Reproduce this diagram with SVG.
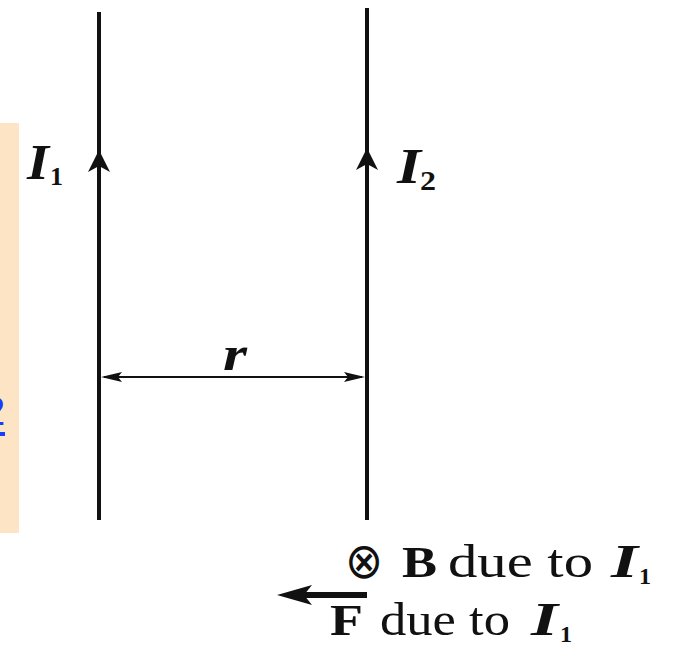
<svg xmlns="http://www.w3.org/2000/svg" width="676" height="648" viewBox="0 0 676 648">
<defs>
<style>
.wire{stroke:#111;stroke-width:4;fill:none}
.dim{stroke:#111;stroke-width:2;fill:none}
.lbl{font-family:"Liberation Serif","Times New Roman",serif;fill:#111}
.bi{font-weight:bold;font-style:italic}
.b{font-weight:bold}
</style>
</defs>
<rect x="0" y="123" width="19" height="410" fill="#FDE4C4"/>
<text x="-17" y="425" font-family="Liberation Sans, Arial, sans-serif" font-size="40" fill="#1a3cff">2</text>
<rect x="0" y="432" width="5" height="4" fill="#1a3cff"/>
<g id="wire1">
<line class="wire" x1="99" y1="12" x2="99" y2="520"/>
<path d="M99,150 L110,172 L99,166 L88,172 Z" fill="#111"/>
<text class="lbl bi" x="27" y="179" font-size="50" textLength="22" lengthAdjust="spacingAndGlyphs">I</text>
<text class="lbl b" x="50" y="185" font-size="26" textLength="13" lengthAdjust="spacingAndGlyphs">1</text>
</g>
<g id="wire2">
<line class="wire" x1="367" y1="8" x2="367" y2="520"/>
<path d="M367,148 L378,170 L367,164 L356,170 Z" fill="#111"/>
<text class="lbl bi" x="397" y="183" font-size="50" textLength="24" lengthAdjust="spacingAndGlyphs">I</text>
<text class="lbl b" x="420" y="190" font-size="28" textLength="16" lengthAdjust="spacingAndGlyphs">2</text>
</g>
<g id="connectors">
<line class="dim" x1="104" y1="377" x2="362" y2="377"/>
<path d="M101,377 L122,372 L118,377 L122,382 Z" fill="#111"/>
<path d="M365,377 L344,372 L348,377 L344,382 Z" fill="#111"/>
<line x1="300" y1="595" x2="367" y2="595" stroke="#111" stroke-width="6"/>
<path d="M277,595 L312,585 L304,595 L312,605 Z" fill="#111"/>
</g>
<g id="r-label">
<text class="lbl bi" x="223" y="370" font-size="48" textLength="24" lengthAdjust="spacingAndGlyphs">r</text>
</g>
<g id="B-label">
<text x="345" y="578" font-family="DejaVu Sans, sans-serif" font-size="50" fill="#111" textLength="38" lengthAdjust="spacingAndGlyphs">⊗</text>
<text class="lbl b" x="402" y="577" font-size="44" textLength="35" lengthAdjust="spacingAndGlyphs">B</text>
<text class="lbl" x="448" y="577" font-size="46" textLength="145" lengthAdjust="spacingAndGlyphs">due to</text>
<text class="lbl bi" x="611" y="577" font-size="46" textLength="27" lengthAdjust="spacingAndGlyphs">I</text>
<text class="lbl b" x="639" y="584" font-size="24" textLength="12" lengthAdjust="spacingAndGlyphs">1</text>
</g>
<g id="F-label">
<text class="lbl b" x="330" y="635" font-size="44" textLength="33" lengthAdjust="spacingAndGlyphs">F</text>
<text class="lbl" x="380" y="635" font-size="46" textLength="130" lengthAdjust="spacingAndGlyphs">due to</text>
<text class="lbl bi" x="531" y="635" font-size="46" textLength="27" lengthAdjust="spacingAndGlyphs">I</text>
<text class="lbl b" x="560" y="642" font-size="24" textLength="12" lengthAdjust="spacingAndGlyphs">1</text>
</g>
</svg>
